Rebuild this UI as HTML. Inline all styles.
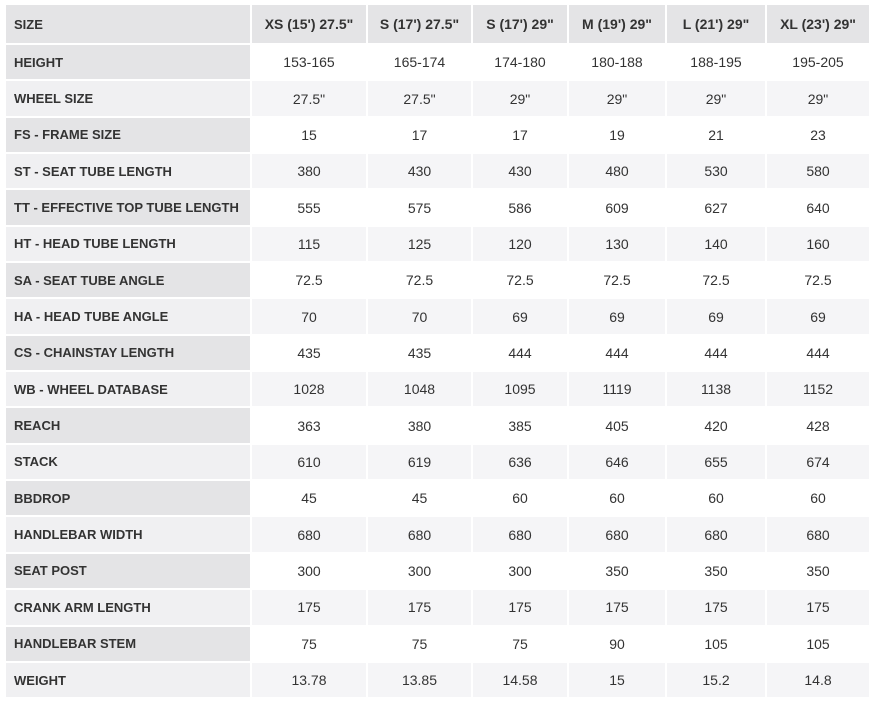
<!DOCTYPE html>
<html><head><style>
html,body{margin:0;padding:0;background:#fff;width:876px;height:703px;overflow:hidden}
table{position:absolute;left:4px;top:3px;width:867px;table-layout:fixed;border-collapse:separate;border-spacing:2px;font-family:"Liberation Sans",sans-serif;font-size:14px;color:#333}
td{padding:0;text-align:center;height:34.35px;white-space:nowrap;overflow:hidden}
td:first-child{text-align:left;padding-left:8px;font-weight:bold;font-size:13px}
tr.h td{height:38px;background:#e4e4e6;font-weight:bold}
tr.o td{background:#fff}
tr.o td:first-child{background:#e4e4e6}
tr.e td{background:#f5f5f7}
tr.e td:first-child{background:#f0f0f2}
</style></head><body>
<table>
<colgroup><col style="width:244px"><col style="width:114px"><col style="width:103px"><col style="width:94px"><col style="width:96px"><col style="width:98px"><col style="width:102px"></colgroup>
<tr class="h"><td>SIZE</td><td>XS (15') 27.5"</td><td>S (17') 27.5"</td><td>S (17') 29"</td><td>M (19') 29"</td><td>L (21') 29"</td><td>XL (23') 29"</td></tr>
<tr class="o"><td>HEIGHT</td><td>153-165</td><td>165-174</td><td>174-180</td><td>180-188</td><td>188-195</td><td>195-205</td></tr>
<tr class="e"><td>WHEEL SIZE</td><td>27.5"</td><td>27.5"</td><td>29"</td><td>29"</td><td>29"</td><td>29"</td></tr>
<tr class="o"><td>FS - FRAME SIZE</td><td>15</td><td>17</td><td>17</td><td>19</td><td>21</td><td>23</td></tr>
<tr class="e"><td>ST - SEAT TUBE LENGTH</td><td>380</td><td>430</td><td>430</td><td>480</td><td>530</td><td>580</td></tr>
<tr class="o"><td>TT - EFFECTIVE TOP TUBE LENGTH</td><td>555</td><td>575</td><td>586</td><td>609</td><td>627</td><td>640</td></tr>
<tr class="e"><td>HT - HEAD TUBE LENGTH</td><td>115</td><td>125</td><td>120</td><td>130</td><td>140</td><td>160</td></tr>
<tr class="o"><td>SA - SEAT TUBE ANGLE</td><td>72.5</td><td>72.5</td><td>72.5</td><td>72.5</td><td>72.5</td><td>72.5</td></tr>
<tr class="e"><td>HA - HEAD TUBE ANGLE</td><td>70</td><td>70</td><td>69</td><td>69</td><td>69</td><td>69</td></tr>
<tr class="o"><td>CS - CHAINSTAY LENGTH</td><td>435</td><td>435</td><td>444</td><td>444</td><td>444</td><td>444</td></tr>
<tr class="e"><td>WB - WHEEL DATABASE</td><td>1028</td><td>1048</td><td>1095</td><td>1119</td><td>1138</td><td>1152</td></tr>
<tr class="o"><td>REACH</td><td>363</td><td>380</td><td>385</td><td>405</td><td>420</td><td>428</td></tr>
<tr class="e"><td>STACK</td><td>610</td><td>619</td><td>636</td><td>646</td><td>655</td><td>674</td></tr>
<tr class="o"><td>BBDROP</td><td>45</td><td>45</td><td>60</td><td>60</td><td>60</td><td>60</td></tr>
<tr class="e"><td>HANDLEBAR WIDTH</td><td>680</td><td>680</td><td>680</td><td>680</td><td>680</td><td>680</td></tr>
<tr class="o"><td>SEAT POST</td><td>300</td><td>300</td><td>300</td><td>350</td><td>350</td><td>350</td></tr>
<tr class="e"><td>CRANK ARM LENGTH</td><td>175</td><td>175</td><td>175</td><td>175</td><td>175</td><td>175</td></tr>
<tr class="o"><td>HANDLEBAR STEM</td><td>75</td><td>75</td><td>75</td><td>90</td><td>105</td><td>105</td></tr>
<tr class="e"><td>WEIGHT</td><td>13.78</td><td>13.85</td><td>14.58</td><td>15</td><td>15.2</td><td>14.8</td></tr>
</table>
</body></html>
